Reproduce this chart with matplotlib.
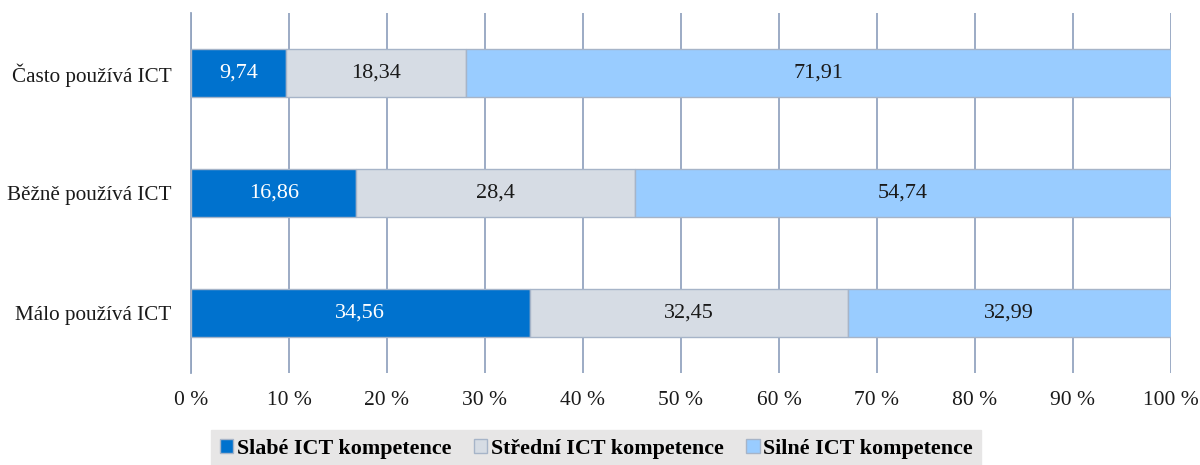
import matplotlib.pyplot as plt
import numpy as np

# Kategorie (odspodu nahoru) a hodnoty v procentech
kategorie = ["Málo používá ICT", "Běžně používá ICT", "Často používá ICT"]
slabe = [34.56, 16.86, 9.74]
stredni = [32.45, 28.4, 18.34]
silne = [32.99, 54.74, 71.91]
serie_nazvy = ["Slabé ICT kompetence", "Střední ICT kompetence", "Silné ICT kompetence"]
barvy = ["#0072CE", "#D6DCE4", "#99CCFF"]
barvy_textu = ["white", "#1a1a1a", "#1a1a1a"]
x_ticky = list(range(0, 101, 10))

plt.rcParams["font.family"] = ["Liberation Serif", "DejaVu Serif"]

fig = plt.figure(figsize=(12, 4.65), dpi=100)
ax = fig.add_axes([191 / 1200, 1 - 373 / 465, 980 / 1200, 360 / 465])

y = np.arange(len(kategorie))
zleva = np.zeros(len(kategorie))
for hodnoty, nazev, barva, tb in zip([slabe, stredni, silne], serie_nazvy, barvy, barvy_textu):
    bary = ax.barh(y, hodnoty, left=zleva, height=0.4, color=barva,
                   edgecolor="#A6B4C8", linewidth=1, label=nazev, zorder=3)
    for b, v in zip(bary, hodnoty):
        ax.text(b.get_x() + b.get_width() / 2, b.get_y() + b.get_height() / 2,
                f"{v:g}".replace(".", ","), ha="center", va="center",
                color=tb, fontsize=16, zorder=4)
    zleva += np.array(hodnoty)

ax.set_xlim(0, 100)
ax.set_ylim(-0.5, 2.5)
ax.set_xticks(x_ticky)
ax.set_xticklabels([f"{t} %" for t in x_ticky], fontsize=15.5)
ax.set_yticks(y)
ax.set_yticklabels(kategorie, fontsize=15.2)
ax.tick_params(axis="both", length=0, pad=13, colors="#1a1a1a")
ax.tick_params(axis="y", pad=14)
ax.grid(axis="x", color="#94A5C0", linewidth=1.3, zorder=0)
for s in ["top", "right", "bottom"]:
    ax.spines[s].set_visible(False)
ax.spines["left"].set_color("#94A5C0")
ax.spines["left"].set_linewidth(1.3)

leg = fig.legend(loc="lower center", bbox_to_anchor=(0.497, -0.03), ncol=3,
                 frameon=True, fancybox=False, handlelength=0.6, handleheight=0.6,
                 handletextpad=0.15, columnspacing=1.05, borderpad=0.4,
                 prop={"weight": "bold", "size": 15.8})
leg.get_frame().set_facecolor("#E7E6E6")
leg.get_frame().set_edgecolor("#E7E6E6")
leg.get_frame().set_alpha(1)

fig.savefig("out.png", dpi=100)
